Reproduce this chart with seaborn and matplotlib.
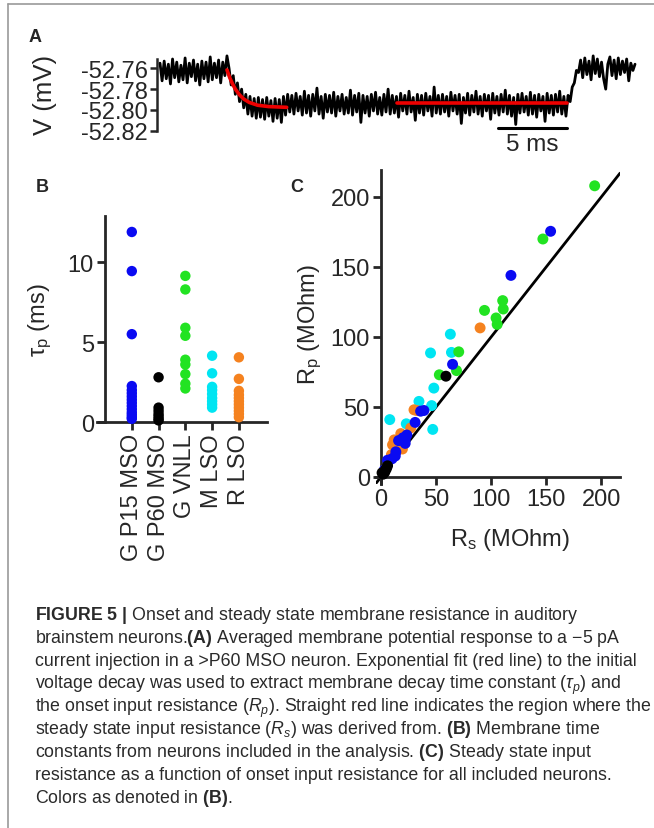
import numpy as np
import pandas as pd
import matplotlib
matplotlib.use("Agg")
import matplotlib.pyplot as plt
import seaborn as sns
from matplotlib.lines import Line2D

sns.set_style("ticks")
plt.rcParams['font.family'] = ['Liberation Sans', 'DejaVu Sans']
plt.rcParams['mathtext.fontset'] = 'custom'
plt.rcParams['mathtext.rm'] = 'Liberation Sans'
plt.rcParams['mathtext.it'] = 'Liberation Sans:italic'
plt.rcParams['mathtext.bf'] = 'Liberation Sans:bold'
plt.rcParams['axes.unicode_minus'] = False

# ---------------- data ----------------
# Panel A: averaged voltage trace, values in uV above -52.800 mV, one every 0.15 ms
dt_ms = 0.15
base_mv = -52.800
trace_pre = [45, 28, 47, 30, 44, 25, 49, 31, 46, 27, 43, 29, 50, 26, 45, 32, 48,
             28, 44, 24, 47, 30, 46, 27, 51, 29, 45, 31, 48, 26, 46, 33, 52]
trace_decay = [40, 24, 33, 15, 26, 8, 20, 2, 15, -4, 13, -6, 11, -8, 12, -7, 10, -9,
               12, -6, 9, -11, 11, -8, 10, -12, 13, -5]
trace_steady = [15, -2, 14, -4, 16, -1, 13, -5, 18, -3, 14, -6, 15, -1, 21, -4, 13, -8, 15, -2, 14, -3, 17, -6, 13,
                -1, 15, -4, 12, -3, 19, -5, 14, -2, 16, -12, 14, -3, 13, -6, 15, -1, 17, -4, 12, -5, 15, -2, 20, -4,
                14, -3, 13, -7, 16, -1, 14, -4, 18, -2, 12, -10, 15, -3, 14, -5, 16, -1, 13, -6, 22, -3, 14, -4, 15,
                -2, 13, -6, 17, -1, 14, -4, 15, -13, 12, -3, 16, -5, 14, -2, 18, -4, 13, -6, 15, -1, 14, -9, 16, -3,
                13, -5, 15, -2, 19, -4, 14, -6, 12, -14, 15, -3, 16, -2, 13, -5, 17, -4, 14, -7, 15, -1, 13, -11, 16,
                -3, 14, -5, 15, -2, 18, -4, 13, -6, 14]
trace_rise = [8, 22, 26, 38, 36]
trace_post = [48, 31, 50, 34, 47, 29, 52, 35, 49, 32, 46, 30, 20, 44, 51, 33, 48, 30,
              50, 34, 47, 36, 49, 28, 45, 38, 44]

fit_t = [4.8, 5.0, 5.2, 5.4, 5.7, 6.0, 6.4, 7.0, 7.8, 9.08]
fit_v = [-52.7615, -52.7690, -52.7750, -52.7800, -52.7855, -52.7895, -52.7928,
         -52.7955, -52.7968, -52.7975]
steady_t = [17.0, 29.2]
steady_v = -52.7930
scale_bar_start = 24.2
scale_bar_len = 5.0
v_ticks = [-52.76, -52.78, -52.80, -52.82]

# Panel B: membrane time constants (ms)
groups = ["G P15 MSO", "G P60 MSO", "G VNLL", "M LSO", "R LSO"]
colors = ["#0a0af2", "#000000", "#22e322", "#00e5f2", "#f5821f"]
tau_p15 = [11.9, 9.45, 5.5, 2.25, 2.0, 1.8, 1.6, 1.4, 1.2, 1.0, 0.8, 0.6, 0.45, 0.3, 0.2]
tau_p60 = [2.8, 0.9, 0.7, 0.5, 0.35, 0.2, 0.1]
tau_vnll = [9.15, 8.3, 5.9, 5.4, 3.9, 3.6, 3.0, 2.4, 2.1]
tau_mlso = [4.15, 3.05, 2.2, 2.0, 1.75, 1.5, 1.3, 1.1, 0.9]
tau_rlso = [4.05, 2.7, 1.95, 1.7, 1.5, 1.3, 1.1, 0.9, 0.7, 0.5, 0.3]

# Panel C: steady state (Rs) vs onset (Rp) input resistance, MOhm
rs_p15 = [154, 118, 65, 36, 39, 31, 23.5, 22, 16, 22, 13.5, 13, 6, 20, 10, 3]
rp_p15 = [175.5, 144, 80.5, 47, 47.5, 39, 30, 26.5, 26, 24, 18, 15, 12, 28, 13, 5]
rs_p60 = [59, 6, 4, 1, 3.5, 5, 2]
rp_p60 = [72, 8, 5, 3, 3.5, 6, 2]
rs_vnll = [194, 147, 110.5, 94, 111, 104.5, 105.5, 70.6, 68.6, 53]
rp_vnll = [208, 170, 126, 119, 120, 113.6, 109, 89.4, 76, 73]
rs_mlso = [63, 45, 64, 48, 34.5, 46, 8, 23, 47]
rp_mlso = [102, 88.6, 89, 63.5, 54, 51, 41, 38, 34]
rs_rlso = [90, 32.5, 27, 18, 12, 10.5, 19.5, 9.5, 15, 14, 30]
rp_rlso = [106.5, 47.5, 35, 31, 26.5, 23, 20, 16, 25, 22, 48]

caption_lines = [
    r"$\mathbf{FIGURE\ 5\ |}$ Onset and steady state membrane resistance in auditory",
    r"brainstem neurons.$\mathbf{(A)}$ Averaged membrane potential response to a −5 pA",
    "current injection in a >P60 MSO neuron. Exponential fit (red line) to the initial",
    r"voltage decay was used to extract membrane decay time constant ($\tau_p$) and",
    r"the onset input resistance ($R_p$). Straight red line indicates the region where the",
    r"steady state input resistance ($R_s$) was derived from. $\mathbf{(B)}$ Membrane time",
    r"constants from neurons included in the analysis. $\mathbf{(C)}$ Steady state input",
    "resistance as a function of onset input resistance for all included neurons.",
    r"Colors as denoted in $\mathbf{(B)}$.",
]

# ---------------- figure ----------------
W, H = 654, 829
fig = plt.figure(figsize=(W / 100, H / 100), dpi=100)


def box(x0, y0, x1, y1):
    # pixel box (top-left origin) -> figure fraction rect
    return [x0 / W, 1 - y1 / H, (x1 - x0) / W, (y1 - y0) / H]


def px(x, y):
    return x / W, 1 - y / H


tick_fs = 17
a_fs = 17

# ---- A ----
axA = fig.add_axes(box(157, 60, 636, 131.7))
trace = trace_pre + trace_decay + trace_steady + trace_rise + trace_post
df_a = pd.DataFrame({"t": np.arange(len(trace)) * dt_ms,
                     "v": base_mv + np.array(trace) / 1000.0})
sns.lineplot(data=df_a, x="t", y="v", color="black", lw=2.0, ax=axA,
             estimator=None, clip_on=False)
axA.plot(fit_t, fit_v, color="#ee0000", lw=2.6)
axA.plot(steady_t, [steady_v, steady_v], color="#ee0000", lw=2.6)
axA.set_xlim(-0.215, 34.12)
axA.set_ylim(-52.82, -52.751)
axA.set_yticks(v_ticks)
axA.set_yticklabels([f"{v:.2f}" for v in v_ticks])
for s in ["top", "right", "bottom"]:
    axA.spines[s].set_visible(False)
axA.spines["left"].set_linewidth(1.8)
axA.tick_params(axis="y", labelsize=a_fs, width=1.8, length=5, pad=1.5)
axA.set_xticks([])
axA.set_xlabel("")
axA.set_ylabel("")
sb_y = -52.8177
axA.plot([scale_bar_start, scale_bar_start + scale_bar_len], [sb_y, sb_y],
         color="black", lw=2.2, clip_on=False)
axA.text(scale_bar_start + scale_bar_len / 2, -52.8220, "5 ms", ha="center",
         va="top", fontsize=a_fs + 0.5)
fig.text(*px(45, 95), "V (mV)", rotation=90, ha="center", va="center",
         fontsize=a_fs + 1.5)

# ---- B ----
axB = fig.add_axes(box(97, 217, 267, 423))
df_b = pd.DataFrame({
    "group": sum([[g] * len(v) for g, v in zip(groups, [tau_p15, tau_p60, tau_vnll,
                                                        tau_mlso, tau_rlso])], []),
    "tau": tau_p15 + tau_p60 + tau_vnll + tau_mlso + tau_rlso,
})
sns.stripplot(data=df_b, x="group", y="tau", hue="group", order=groups,
              hue_order=groups, palette=colors, jitter=False, size=7.5,
              linewidth=0, legend=False, ax=axB, clip_on=False, zorder=3)
axB.set_xlim(-1.3, 5.05)
axB.set_ylim(0, 12.9)
axB.set_yticks([0, 5, 10])
axB.spines["left"].set_position(("data", -1.0))
for s in ["top", "right"]:
    axB.spines[s].set_visible(False)
for s in ["left", "bottom"]:
    axB.spines[s].set_linewidth(2)
axB.tick_params(labelsize=tick_fs, width=2, length=6, pad=2)
axB.set_xticks(range(len(groups)))
axB.set_xticklabels(groups, rotation=90, ha="center", va="top")
axB.set_xlabel("")
axB.set_ylabel("")
fig.text(*px(40, 320), r"$\mathrm{\tau_p}$ (ms)", rotation=90, ha="center",
         va="center", fontsize=tick_fs)

# ---- C ----
axC = fig.add_axes(box(376, 171.4, 620, 485))
order_c = ["M LSO", "R LSO", "G VNLL", "G P15 MSO", "G P60 MSO"]
xy_c = {"G P15 MSO": (rs_p15, rp_p15), "G P60 MSO": (rs_p60, rp_p60),
        "G VNLL": (rs_vnll, rp_vnll), "M LSO": (rs_mlso, rp_mlso),
        "R LSO": (rs_rlso, rp_rlso)}
df_c = pd.concat([pd.DataFrame({"group": g, "rs": xy_c[g][0], "rp": xy_c[g][1]})
                  for g in order_c], ignore_index=True)
axC.axline((0, 0), slope=1, color="black", lw=2, zorder=1)
sns.scatterplot(data=df_c, x="rs", y="rp", hue="group",
                palette=dict(zip(groups, colors)), s=62, linewidth=0,
                legend=False, ax=axC, clip_on=False, zorder=3)
axC.set_xlim(-4.5, 217)
axC.set_ylim(-5, 219)
axC.set_xticks([0, 50, 100, 150, 200])
axC.set_yticks([0, 50, 100, 150, 200])
axC.spines["left"].set_position(("data", 0))
axC.spines["bottom"].set_position(("data", 0))
for s in ["top", "right"]:
    axC.spines[s].set_visible(False)
for s in ["left", "bottom"]:
    axC.spines[s].set_linewidth(2)
axC.tick_params(labelsize=tick_fs, width=2, length=6, pad=2)
axC.set_xlabel("")
axC.set_ylabel("")
fig.text(*px(510, 540), r"R$_\mathrm{s}$ (MOhm)", ha="center", va="center",
         fontsize=tick_fs)
fig.text(*px(310, 325), r"R$_\mathrm{p}$ (MOhm)", rotation=90, ha="center",
         va="center", fontsize=tick_fs)

# ---- panel letters ----
for letter, (x, y) in zip("ABC", [(35, 38), (42, 188), (297, 188)]):
    fig.text(*px(x, y), letter, fontsize=13, fontweight="bold", ha="center",
             va="center")

# ---- caption ----
for i, line in enumerate(caption_lines):
    fig.text(*px(35, 620.5 + i * 22.8), line, fontsize=12.8, ha="left",
             va="baseline", color="#2a2a2a")

# ---- frame ----
fig.add_artist(Line2D([8 / W, 8 / W], [0, 1 - 5 / H], transform=fig.transFigure,
                      color="#9a9a9a", lw=1.2))
fig.add_artist(Line2D([8 / W, 1], [1 - 5 / H, 1 - 5 / H], transform=fig.transFigure,
                      color="#9a9a9a", lw=1.2))

fig.savefig("out.png", dpi=100)
